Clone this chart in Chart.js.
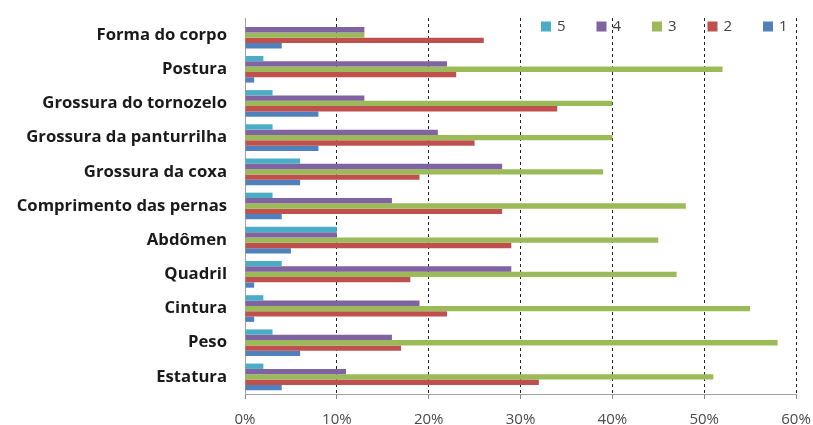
<!DOCTYPE html>
<html lang="pt">
<head>
<meta charset="utf-8">
<title>Gráfico</title>
<script src="https://cdn.jsdelivr.net/npm/chart.js@4.4.1/dist/chart.umd.min.js"></script>
<style>
    html, body { margin: 0; padding: 0; background: #fff; }
    #caixa { width: 813px; height: 425px; position: relative; }
</style>
</head>
<body>
<div id="caixa"><canvas id="barras"></canvas></div>
<script>
const categorias = ['Forma do corpo', 'Postura', 'Grossura do tornozelo', 'Grossura da panturrilha',
    'Grossura da coxa', 'Comprimento das pernas', 'Abdômen', 'Quadril', 'Cintura', 'Peso', 'Estatura'];
const serie5 = [0, 2, 3, 3, 6, 3, 10, 4, 2, 3, 2];
const serie4 = [13, 22, 13, 21, 28, 16, 10, 29, 19, 16, 11];
const serie3 = [13, 52, 40, 40, 39, 48, 45, 47, 55, 58, 51];
const serie2 = [26, 23, 34, 25, 19, 28, 29, 18, 22, 17, 32];
const serie1 = [4, 1, 8, 8, 6, 4, 5, 1, 1, 6, 4];
const nomesSeries = ['5', '4', '3', '2', '1'];
const cores = ['#4BACC6', '#8064A2', '#9BBB59', '#C0504D', '#4F81BD'];

// legenda desenhada dentro da área do gráfico, canto superior direito
const legendaInterna = {
    id: 'legendaInterna',
    afterDraw(chart) {
        const c = chart.ctx;
        const area = chart.chartArea;
        const passo = 55.5;
        const n = chart.data.datasets.length;
        c.save();
        c.font = '15px "Open Sans"';
        c.textBaseline = 'middle';
        c.textAlign = 'left';
        chart.data.datasets.forEach((ds, i) => {
            const x = area.right - 33 - (n - 1 - i) * passo;
            const y = area.top + 3.5;
            c.fillStyle = ds.backgroundColor;
            c.fillRect(x, y, 10, 10);
            c.fillStyle = '#404040';
            c.fillText(ds.label, x + 16, y + 5.5);
        });
        c.restore();
    }
};

document.addEventListener('DOMContentLoaded', function () {
    const ctx = document.getElementById('barras');
    const valores = [serie5, serie4, serie3, serie2, serie1];

    new Chart(ctx, {
        type: 'bar',
        data: {
            labels: categorias,
            datasets: valores.map((v, i) => ({
                label: nomesSeries[i],
                data: v,
                backgroundColor: cores[i],
                borderWidth: 0,
                barPercentage: 1,
                categoryPercentage: 0.78
            }))
        },
        options: {
            indexAxis: 'y',
            responsive: true,
            maintainAspectRatio: false,
            animation: false,
            layout: { padding: { top: 18, right: 17, left: 5, bottom: 0 } },
            plugins: {
                legend: { display: false },
                tooltip: { enabled: false }
            },
            scales: {
                x: {
                    min: 0,
                    max: 60,
                    ticks: {
                        stepSize: 10,
                        padding: 12,
                        color: '#4a4a4a',
                        font: { family: '"Open Sans"', size: 15 },
                        callback: v => v + '%'
                    },
                    grid: {
                        color: c => c.tick && c.tick.value === 0 ? 'rgba(0,0,0,0)' : '#222',
                        tickColor: '#888',
                        tickLength: 5,
                        lineWidth: 1
                    },
                    border: { display: true, color: '#a0a0a0', width: 1, dash: [3, 3] },
                    afterFit: s => {
                        s.height = 31;
                        s.paddingLeft = 0;
                        s.paddingRight = 0;
                    }
                },
                y: {
                    ticks: {
                        padding: 18,
                        color: '#1a1a1a',
                        font: { family: '"Open Sans"', size: 16.7, weight: 'bold' }
                    },
                    grid: { color: 'rgba(0,0,0,0)', drawTicks: false },
                    border: { display: true, color: '#a0a0a0', width: 1 },
                    afterFit: s => {
                        s.width = 240;
                        s.paddingTop = 0;
                        s.paddingBottom = 0;
                    }
                }
            }
        },
        plugins: [legendaInterna]
    });
});
</script>
</body>
</html>
